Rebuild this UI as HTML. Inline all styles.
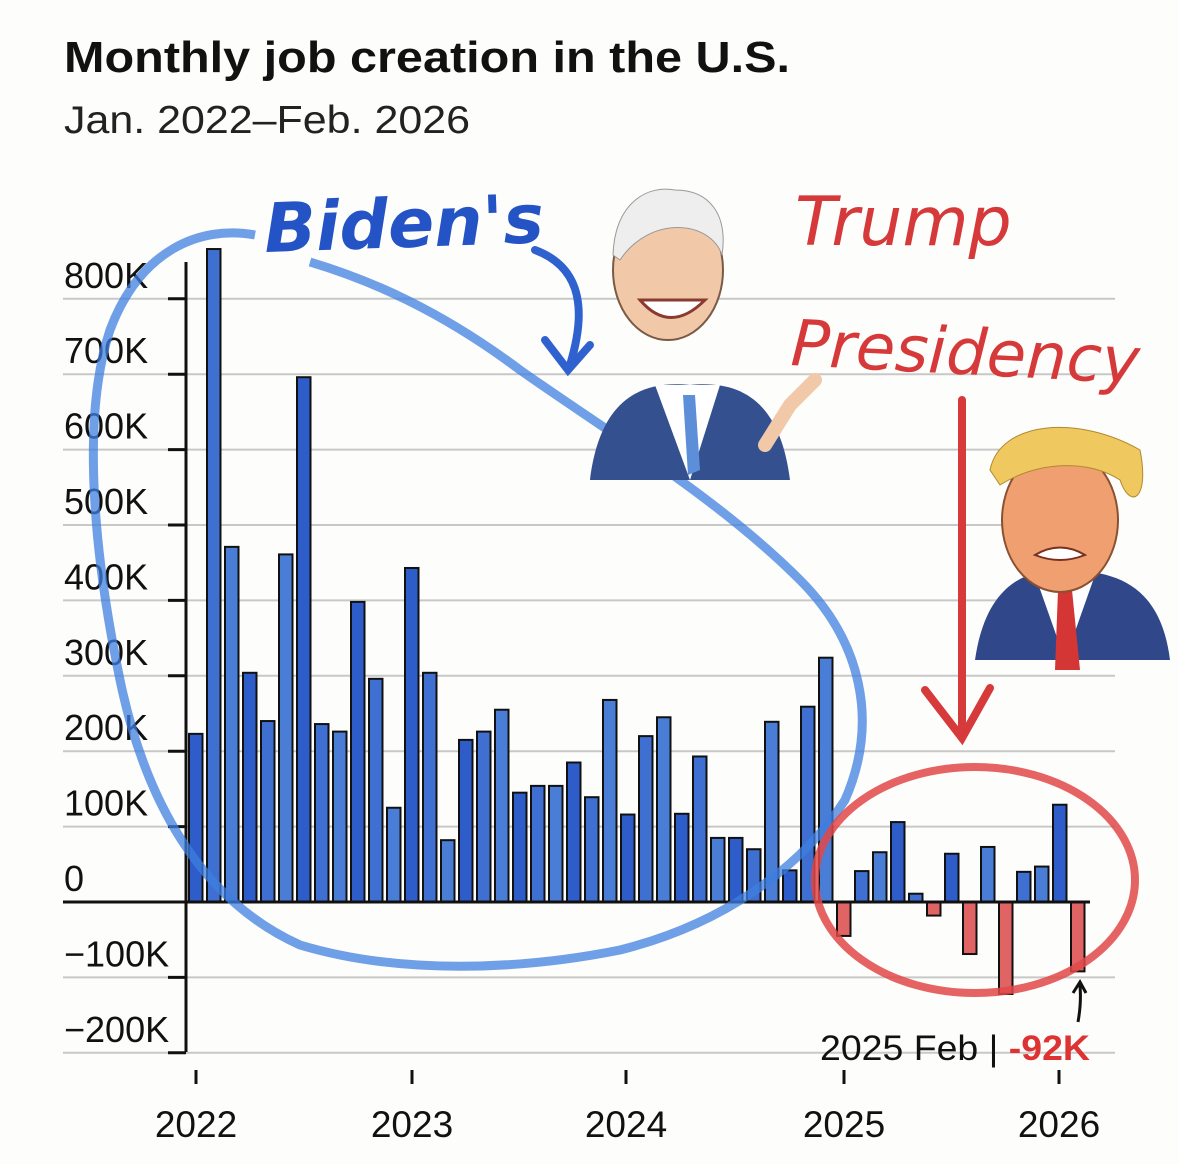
<!DOCTYPE html>
<html><head><meta charset="utf-8"><style>
html,body{margin:0;padding:0;background:#fdfdfb;}
svg{display:block;font-family:"Liberation Sans",sans-serif;}
</style></head><body>
<svg width="1179" height="1164" viewBox="0 0 1179 1164" xmlns="http://www.w3.org/2000/svg">
<rect width="1179" height="1164" fill="#fdfdfb"/>
<text x="64" y="72" font-size="44" font-weight="bold" fill="#111" textLength="726" lengthAdjust="spacingAndGlyphs">Monthly job creation in the U.S.</text>
<text x="64" y="133" font-size="39" fill="#222" textLength="406" lengthAdjust="spacingAndGlyphs">Jan. 2022–Feb. 2026</text>
<g id="grid" stroke="#c8c8c8" stroke-width="2"></g>
<g id="labels" font-size="36" fill="#111"></g>
<g id="bars"></g>
<line x1="186" y1="262" x2="186" y2="1052" stroke="#111" stroke-width="3"/>
<line x1="63" y1="902" x2="1090" y2="902" stroke="#111" stroke-width="3"/>
<g stroke="#111" stroke-width="3">
<line x1="196" y1="1070" x2="196" y2="1084"/><line x1="412" y1="1070" x2="412" y2="1084"/>
<line x1="626" y1="1070" x2="626" y2="1084"/><line x1="844" y1="1070" x2="844" y2="1084"/>
<line x1="1059" y1="1070" x2="1059" y2="1084"/></g>
<g font-size="37" fill="#111" text-anchor="middle">
<text x="196" y="1137">2022</text><text x="412" y="1137">2023</text><text x="626" y="1137">2024</text><text x="844" y="1137">2025</text><text x="1059" y="1137">2026</text></g>
<!-- blue loop -->
<path d="M255,235 C200,225 140,250 110,330 C80,420 95,560 120,680 C145,800 200,900 300,945 C400,975 520,970 620,950 C720,925 800,870 845,800 C880,720 860,640 800,580 C720,500 620,440 520,370 C440,310 370,280 310,262" fill="none" stroke="#3e7fe0" stroke-width="9" stroke-opacity="0.75"/>
<path d="M535,250 C575,265 590,300 570,365 M545,340 L568,370 L590,345" fill="none" stroke="#2f62cf" stroke-width="8" stroke-linecap="round"/>
<text x="265" y="252" font-size="68" fill="#2453c5" font-family="'DejaVu Sans',sans-serif" font-style="italic" font-weight="bold" transform="rotate(-2 265 252)">Biden's</text>
<!-- red -->
<text x="795" y="245" font-size="68" fill="#d6393a" font-family="'DejaVu Sans',sans-serif" font-style="italic">Trump</text>
<text x="790" y="365" font-size="64" fill="#d6393a" font-family="'DejaVu Sans',sans-serif" font-style="italic" transform="rotate(3 790 365)">Presidency</text>
<path d="M962,400 L962,735 M925,690 L962,738 L990,688" fill="none" stroke="#d63a3a" stroke-width="8" stroke-linecap="round"/>
<ellipse cx="975" cy="880" rx="160" ry="113" fill="none" stroke="#e04848" stroke-width="8" stroke-opacity="0.85"/>
<!-- Biden -->
<path d="M590,480 C600,400 640,380 690,385 C740,380 780,400 790,480 Z" fill="#35508f"/>
<path d="M655,385 L690,480 L720,385 Z" fill="#fff"/><path d="M683,395 L695,395 L700,470 L688,475 Z" fill="#5c8fd8"/>
<ellipse cx="668" cy="270" rx="55" ry="70" fill="#f2c9a8" stroke="#7a5a45" stroke-width="2"/>
<path d="M613,255 C615,200 650,185 675,190 C710,190 728,215 722,255 C710,220 650,215 620,260 Z" fill="#eeeeee" stroke="#999"/>
<path d="M640,300 Q670,335 705,300 Z" fill="#fff" stroke="#8a3a30" stroke-width="3"/>
<path d="M765,445 L790,405 L815,380" stroke="#f2c9a8" stroke-width="14" stroke-linecap="round" fill="none"/>
<!-- Trump -->
<path d="M975,660 C985,590 1020,570 1060,570 C1110,570 1160,580 1170,660 Z" fill="#30488a"/>
<path d="M1035,575 L1065,660 L1095,575 Z" fill="#fff"/><path d="M1058,590 L1072,590 L1080,670 L1055,670 Z" fill="#d43535"/>
<ellipse cx="1060" cy="520" rx="58" ry="72" fill="#f0a070" stroke="#8a5030" stroke-width="2"/>
<path d="M990,470 C1000,420 1080,415 1140,450 C1150,500 1130,510 1120,480 C1090,460 1040,460 1000,485 Z" fill="#f0c860" stroke="#b08830"/>
<path d="M1035,555 Q1060,540 1085,555 Q1060,565 1035,555 Z" fill="#fff" stroke="#7a3020" stroke-width="2"/>
<!-- annotation -->
<path d="M1078,1022 C1082,1000 1080,990 1080,985 M1073,993 L1080,982 L1086,993" fill="none" stroke="#111" stroke-width="3"/>
<text x="820" y="1060" font-size="35" fill="#111" textLength="270" lengthAdjust="spacingAndGlyphs">2025 Feb | <tspan fill="#d33" font-weight="bold">-92K</tspan></text>
<script>
var s=0.754,z=902,NS="http://www.w3.org/2000/svg";
function el(t,a,p){var e=document.createElementNS(NS,t);for(var k in a)e.setAttribute(k,a[k]);(p||document.querySelector('svg')).appendChild(e);return e;}
var g=document.getElementById('grid'),lb=document.getElementById('labels');
for(var v=-200;v<=800;v+=100){var y=z-v*s;if(v!=0)el('line',{x1:63,y1:y,x2:1115,y2:y},g);
 if(v!=0)el('line',{x1:168,y1:y,x2:186,y2:y,stroke:'#111','stroke-width':3},g);
 var t=el('text',{x:64,y:y-11},lb);t.textContent=(v==0?'0':(v<0?'\u2212'+(-v):v)+'K');}
var d=[223,866,471,304,240,461,696,236,226,398,296,125,443,304,82,215,226,255,145,154,154,185,139,268,116,220,245,117,193,85,85,70,239,42,259,324,-45,41,66,106,11,-18,64,-69,73,-122,40,47,129,-92];
var b=document.getElementById('bars');
d.forEach(function(v,i){var x=189+i*18,h=Math.abs(v)*s,y=v>0?z-h:z;
 var c=v<0?'#e06464':(i%3==0?'#2e5cc8':(i%3==1?'#3f6fd0':'#4a7dd6'));
 el('rect',{x:x,y:y,width:13.5,height:h,fill:c,stroke:'#111','stroke-width':2},b);});
</script>
</svg>
</body></html>
